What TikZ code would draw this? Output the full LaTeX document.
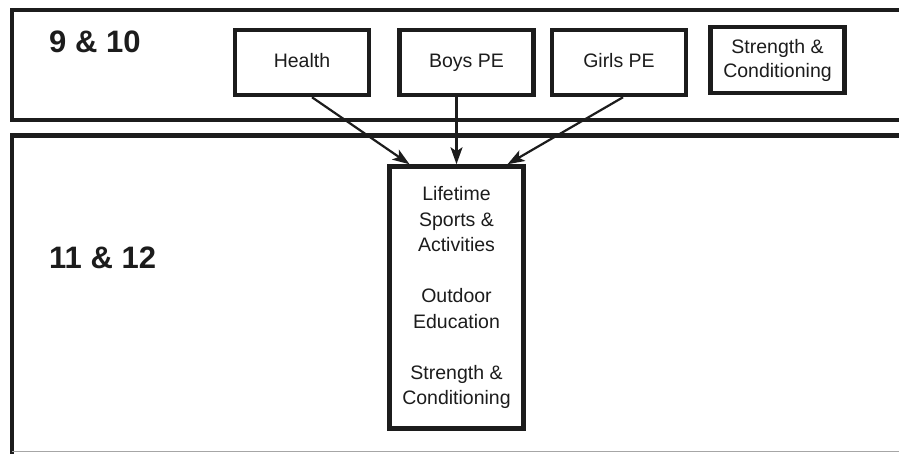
\documentclass[tikz,border=0pt]{standalone}
\usepackage{fontspec}
\setmainfont{Liberation Sans}
\usepackage{tikz}
\definecolor{linecolor}{rgb}{0.11,0.11,0.11}
\usetikzlibrary{arrows.meta,positioning}
\tikzset{
	block/.style={
		rectangle,
		line width=4.5pt,
		draw=linecolor,
		fill=white,
		minimum height=65pt,
		minimum width=134pt,
		inner sep=0pt,
		text=linecolor,
		align=center,
		font=\fontsize{19.5}{24}\selectfont
	},
	course/.style={
		block,
		text height=14pt,
		text depth=4pt
	},
	band/.style={
		draw=linecolor,
		line width=4.8pt
	},
	arrow/.style={
		draw=linecolor,
		line width=2.2pt,
		-{Stealth[length=17pt,width=12pt,inset=4pt]}
	},
	grade/.style={
		anchor=base west,
		inner sep=0pt,
		text=linecolor,
		font=\fontsize{31}{35}\selectfont\bfseries
	},
}

\begin{document}
\begin{tikzpicture}[x=1pt,y=-1pt]
		\useasboundingbox (0,0) rectangle (899,453);
		% grade bands
		\draw [band] (905,10) -| (12,120) -- (905,120);
		\draw [band] (905,135.5) -| (12,460);
		\draw [gray!70,line width=1.5pt] (12,451.5) -- (905,451.5);
		\node (g910) [grade] at (49,52) {9 \& 10};
		\node (g1112) [grade] at (49,268) {11 \& 12};
		% courses
		\node (health) [course] at (302,62.5) {Health};
		\node (boys) [course,right=26pt of health] {Boys PE};
		\node (girls) [course,right=14pt of boys] {Girls PE};
		\node (strength) [block,right=20pt of girls,yshift=2.5pt,minimum height=66pt] {Strength \&\\Conditioning};
		\node (lifetime) [block,minimum height=262pt,font=\fontsize{19.5}{25.5}\selectfont] at (456.5,297.5)
			{Lifetime\\Sports \&\\Activities\\[25.5pt]Outdoor\\Education\\[25.5pt]Strength \&\\Conditioning};
		\draw [arrow] ([xshift=10pt]health.south) -- ([xshift=-47pt]lifetime.north);
		\draw [arrow] (boys.south -| lifetime.north) -- (lifetime.north);
		\draw [arrow] ([xshift=4pt]girls.south) -- ([xshift=51pt]lifetime.north);
\end{tikzpicture}
\end{document}
